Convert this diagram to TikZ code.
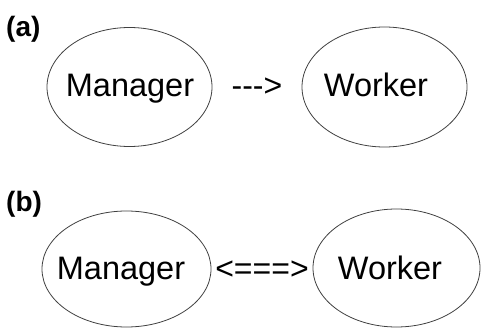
\documentclass[tikz,border=0pt]{standalone}
\usepackage{fontspec}
\newfontfamily\lsans{Liberation Sans}
\usetikzlibrary{shapes.geometric}
\begin{document}
\begin{tikzpicture}[x=1pt,y=-1pt,
  agent/.style={ellipse,draw=black!75,line width=0.8pt,fill=white,inner sep=0pt},
  word/.style={font=\lsans\fontsize{32.5}{36}\selectfont,inner sep=0pt,anchor=base},
  conn/.style={font=\lsans\fontsize{32}{36}\selectfont,inner sep=0pt,anchor=base},
  tag/.style={font=\lsans\bfseries\fontsize{28}{32}\selectfont,inner sep=0pt,anchor=base west}]
\useasboundingbox (0,0) rectangle (481,328);
\node[tag] (ta) at (6,37) {(a)};
\node[agent,minimum width=165,minimum height=119] (m1) at (129.5,87) {};
\node[agent,minimum width=165,minimum height=120] (w1) at (384.5,87) {};
\node[word] (tm1) at (130,97) {Manager};
\node[word] (tw1) at (376,97) {Worker};
\path (m1.east) -- node[conn,yshift=-10pt] (c1) {--->} (w1.west);
\node[tag] (tb) at (6,212) {(b)};
\node[agent,minimum width=169,minimum height=116] (m2) at (126.5,269) {};
\node[agent,minimum width=167,minimum height=118] (w2) at (396.5,268) {};
\node[word] (tm2) at (121,279) {Manager};
\node[word] (tw2) at (390,279) {Worker};
\path (m2.east) -- node[conn,yshift=-11pt] (c2) {<===>} (w2.west);
\end{tikzpicture}
\end{document}
